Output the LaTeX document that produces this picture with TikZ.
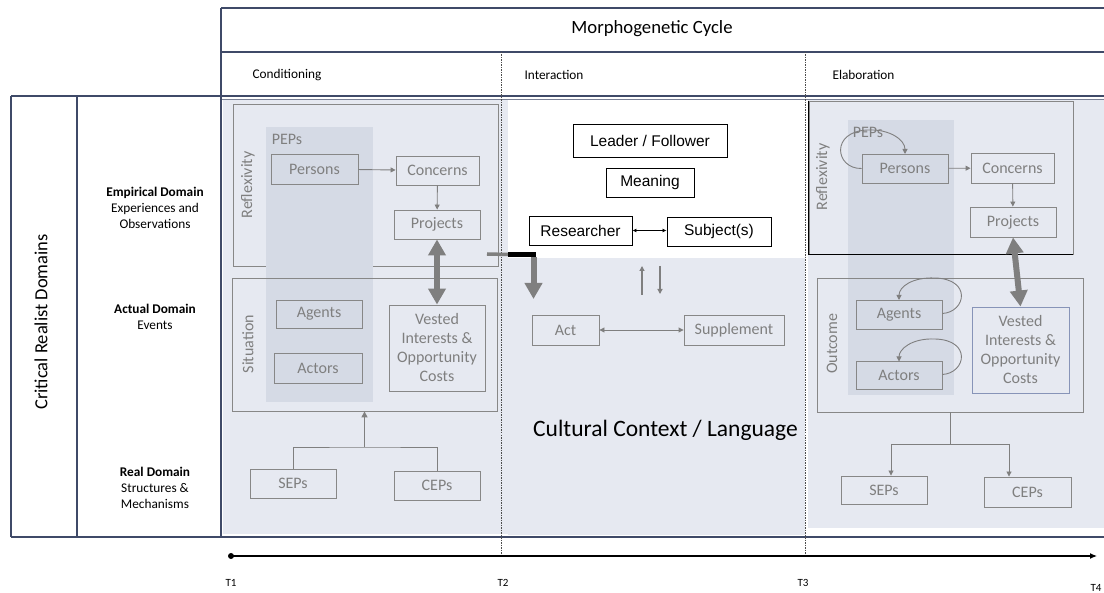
\documentclass[tikz,border=0pt]{standalone}
\usepackage{fontspec}
\setmainfont{Carlito}
\newfontfamily\arialf{Liberation Sans}
\usetikzlibrary{arrows.meta,calc}
\definecolor{gridc}{HTML}{3F4A68}
\definecolor{bgfill}{HTML}{E6E9F1}
\definecolor{pepfill}{HTML}{D5DAE5}
\definecolor{boxgrey}{HTML}{878787}
\definecolor{txtgrey}{HTML}{7F7F7F}
\definecolor{argrey}{HTML}{7F7F7F}
\definecolor{vestblue}{HTML}{8794B8}
\newcommand{\fs}[2]{\fontsize{#1}{#2}\selectfont}
\begin{document}
\begin{tikzpicture}[x=1pt,y=-1pt,
  gridline/.style={draw=gridc, line width=1.2pt},
  sepline/.style={draw=black!70, line width=0.6pt, dash pattern=on 1.5pt off 1pt},
  frame/.style={draw=boxgrey, line width=0.9pt, inner sep=0pt},
  gbox/.style={draw=boxgrey, line width=0.9pt, text=txtgrey, inner sep=0pt, align=center, font=\fs{16}{19}},
  kbox/.style={draw=black, line width=0.9pt, text=black, inner sep=0pt, align=center, font=\arialf\fs{15.5}{18}},
  sidelabel/.style={rotate=90, text=txtgrey, font=\fs{16}{19}},
  garrow/.style={draw=argrey, line width=0.9pt, -{Triangle[width=5pt,length=5pt]}},
  gdarrow/.style={draw=argrey, line width=0.9pt, {Triangle[width=5pt,length=5pt]}-{Triangle[width=5pt,length=5pt]}},
  bigarrow/.style={draw=argrey, line width=6pt, {Triangle[width=17pt,length=16pt]}-{Triangle[width=17pt,length=16pt]}},
  headlabel/.style={font=\fs{13.3}{16}, anchor=west},
  domlabel/.style={font=\fs{13.3}{16}, align=center},
  tlabel/.style={font=\fs{11}{12}}
]
\useasboundingbox (0,0) rectangle (1104,593);

% ---------- shaded backgrounds ----------
\fill[bgfill] (223,100) rectangle (508,534);
\fill[bgfill] (508,258) rectangle (805,535);
\fill[bgfill] (808,100) rectangle (1104,528);

% ---------- table grid ----------
\draw[gridline] (221,8) -- (1104,8);
\draw[gridline] (221,52) -- (1104,52);
\draw[gridline] (11,96) -- (1104,96);
\draw[draw=gridc!70, line width=0.8pt] (221,99) -- (1104,99);
\draw[gridline] (11,537) -- (1104,537);
\draw[gridline] (221,8) -- (221,537);
\draw[gridline] (11,96) -- (11,537);
\draw[gridline] (77,96) -- (77,537);
\draw[sepline] (501,52) -- (501,556);
\draw[sepline] (805,52) -- (805,556);

% ---------- headers ----------
\node[font=\fs{18.7}{22}] (cycle) at (652,29) {Morphogenetic Cycle};
\node[headlabel] (hcond) at (249,75) {Conditioning};
\node[headlabel] (hinter) at (521,75) {Interaction};
\node[headlabel] (helab) at (829,75) {Elaboration};

\node[rotate=90, font=\fs{18.5}{22}] (crd) at (41,322) {Critical Realist Domains};
\node[domlabel] (emp) at (155,208) {\textbf{Empirical Domain}\\Experiences and\\Observations};
\node[domlabel] (act) at (155,317) {\textbf{Actual Domain}\\Events};
\node[domlabel] (real) at (155,488) {\textbf{Real Domain}\\Structures \&\\Mechanisms};

% ---------- conditioning ----------
\node[frame, minimum width=265pt, minimum height=162pt] (reflA) at (365.5,185) {};
\fill[pepfill] (266,127) rectangle (373,402);
\node[frame, minimum width=265pt, minimum height=133pt] (sitA) at (364.5,344.5) {};
\node[sidelabel] (reflAl) at (248,185) {Reflexivity};
\node[sidelabel] (sitAl) at (248,344) {Situation};
\node[text=txtgrey, font=\fs{16}{19}] (pepsA) at (287,139) {PEPs};
\node[gbox, minimum width=87pt, minimum height=30pt] (personsA) at (314.5,169) {Persons};
\node[gbox, minimum width=83pt, minimum height=29pt] (concernsA) at (437.5,170.5) {Concerns};
\node[gbox, minimum width=86pt, minimum height=29pt] (projectsA) at (437,224.5) {Projects};
\node[gbox, minimum width=86pt, minimum height=28pt] (agentsA) at (319,314) {Agents};
\node[gbox, minimum width=88pt, minimum height=30pt] (actorsA) at (318,368) {Actors};
\node[gbox, minimum width=96pt, minimum height=86pt] (vestedA) at (437,348) {Vested\\Interests \&\\Opportunity\\Costs};
\node[gbox, minimum width=86pt, minimum height=29pt] (sepsA) at (293,483.5) {SEPs};
\node[gbox, minimum width=86pt, minimum height=29pt] (cepsA) at (437,485.5) {CEPs};

\draw[garrow] (personsA) -- (concernsA);
\draw[garrow] (concernsA) -- (projectsA);
\draw[bigarrow] (projectsA.south) -- (vestedA.north);
\coordinate (jA) at (364.5,447);
\draw[draw=argrey, line width=0.9pt] (sepsA.north) |- (jA) -| (cepsA.north);
\draw[draw=argrey, line width=1.8pt, -{Triangle[width=6pt,length=6pt]}] (jA) -- (sitA.south);

% elbow from conditioning into interaction
\coordinate (eA) at (487,254);
\coordinate (eB) at (508,254.5);
\coordinate (eC) at (533.5,254.5);
\coordinate (eD) at (533.5,299);
\draw[draw=argrey, line width=3.5pt] (eA) -- (eB);
\draw[draw=argrey, line width=6pt, -{Triangle[width=17pt,length=16pt]}] ($(eC)+(0,3)$) -- (eD);
\draw[draw=black, line width=5pt] (eB) -- (eC) -- ++(0,3);

% ---------- interaction ----------
\node[kbox, minimum width=154pt, minimum height=33pt] (leader) at (650,140.5) {Leader / Follower};
\node[kbox, minimum width=88pt, minimum height=29pt] (meaning) at (650,182.5) {Meaning};
\node[kbox, minimum width=103pt, minimum height=29pt] (researcher) at (580.5,230.5) {Researcher};
\node[kbox, minimum width=104pt, minimum height=29pt] (subject) at (719,231.5) {Subject(s)};
\draw[line width=0.8pt, {Latex[length=4pt,width=4pt]}-{Latex[length=4pt,width=4pt]}] (researcher.east) -- (subject.west |- researcher.east);
\coordinate (upA) at (642,295);
\coordinate (upB) at (642,266);
\coordinate (dnA) at (660,266);
\coordinate (dnB) at (660,294);
\draw[garrow, line width=1.2pt] (upA) -- (upB);
\draw[garrow, line width=1.2pt] (dnA) -- (dnB);
\node[gbox, minimum width=67pt, minimum height=30pt] (actbox) at (565.5,330) {Act};
\node[gbox, minimum width=100pt, minimum height=30pt] (supplement) at (734,330) {Supplement};
\draw[gdarrow] (actbox) -- (supplement);
\node[font=\fs{23.5}{27}] (culture) at (665.5,430) {Cultural Context / Language};

% ---------- elaboration ----------
\fill[pepfill] (848,120) rectangle (954,395);
\node[frame, minimum width=264pt, minimum height=153pt] (reflC) at (941,177.5) {};
\draw[black, line width=1pt] (reflC.north west) -- (reflC.south west) -- (reflC.south east);
\node[frame, minimum width=266pt, minimum height=134pt] (outC) at (950,345) {};
\node[sidelabel] (reflCl) at (823,177) {Reflexivity};
\node[sidelabel] (outCl) at (832,344) {Outcome};
\node[text=txtgrey, font=\fs{16}{19}] (pepsC) at (868,132) {PEPs};
\node[gbox, minimum width=86pt, minimum height=29pt] (personsC) at (905,168.5) {Persons};
\node[gbox, minimum width=83pt, minimum height=30pt] (concernsC) at (1012.5,168) {Concerns};
\node[gbox, minimum width=86pt, minimum height=30pt] (projectsC) at (1013,222) {Projects};
\node[gbox, minimum width=86pt, minimum height=29pt] (agentsC) at (899,314.5) {Agents};
\node[gbox, minimum width=86pt, minimum height=28pt] (actorsC) at (899,375.5) {Actors};
\node[gbox, draw=vestblue, minimum width=97pt, minimum height=86pt] (vestedC) at (1020.5,350) {Vested\\Interests \&\\Opportunity\\Costs};
\node[gbox, minimum width=86pt, minimum height=28pt] (sepsC) at (884,490) {SEPs};
\node[gbox, minimum width=87pt, minimum height=30pt] (cepsC) at (1027.5,492) {CEPs};

\draw[garrow] (personsC) -- (concernsC);
\draw[garrow] (concernsC) -- (projectsC);
\draw[bigarrow] (projectsC.south) -- (vestedC.north);
\draw[garrow] (personsC.west) .. controls (835,169) and (830,131) .. (868,130)
  .. controls (890,129) and (905,140) .. (905,154);
\draw[garrow] (agentsC.east) ++(0,-1) .. controls (966,312) and (972,279) .. (935,278)
  .. controls (912,277) and (899,287) .. (899,300);
\draw[garrow] (actorsC.east) ++(0,-1) .. controls (966,373) and (972,340) .. (935,339)
  .. controls (912,338) and (899,349) .. (899,361.5);
\coordinate (jC) at (950,444);
\coordinate (jCL) at (891,444);
\coordinate (jCR) at (1009,444);
\draw[draw=argrey, line width=0.9pt] (outC.south) -- (jC);
\draw[draw=argrey, line width=0.9pt] (jCL) -- (jCR);
\draw[garrow] (jCL) -- (jCL |- sepsC.north);
\draw[garrow] (jCR) -- (jCR |- cepsC.north);

% ---------- time line ----------
\coordinate (t1) at (231,556);
\coordinate (t4) at (1097,556);
\fill (t1) circle (3pt);
\draw[line width=1.2pt, -{Latex[length=7pt,width=6pt]}] (t1) -- (t4);
\node[tlabel] (T1) at (231,583) {T1};
\node[tlabel] (T2) at (503,583) {T2};
\node[tlabel] (T3) at (803,583) {T3};
\node[tlabel] (T4) at (1096,588) {T4};
\end{tikzpicture}
\end{document}
